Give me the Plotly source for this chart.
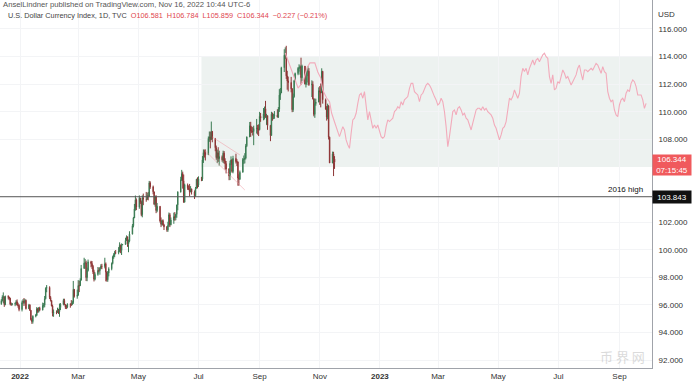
import pandas as pd
import plotly.graph_objects as go

# ---------------- data ----------------
# DXY daily candles, business days 2021-12-13 .. 2022-11-16
close_dec21 = [96.31, 96.57, 96.58, 96.02, 96.62, 96.56, 96.49, 96.06, 96.05, 96.06, 96.10, 96.23, 95.99, 95.96, 95.67]
high_dec21 = [96.42, 96.70, 96.91, 96.63, 96.68, 96.70, 96.60, 96.52, 96.18, 96.14, 96.18, 96.35, 96.40, 96.16, 96.05]
low_dec21 = [96.01, 96.25, 96.12, 95.86, 95.98, 96.40, 96.34, 95.98, 95.93, 95.96, 95.91, 96.00, 95.95, 95.80, 95.54]

close_jan = [96.17, 96.27, 96.18, 96.33, 95.73, 95.99, 95.61, 94.94, 94.80, 95.18, 95.25, 95.73, 95.52, 95.77, 95.64, 95.96, 95.98, 96.45, 97.21, 97.27, 96.54]
high_jan = [96.32, 96.42, 96.50, 96.44, 96.39, 96.08, 96.05, 95.63, 95.04, 95.25, 95.35, 95.85, 95.78, 95.85, 95.87, 96.17, 96.14, 96.65, 97.27, 97.44, 97.35]
low_jan = [95.53, 96.06, 95.92, 96.05, 95.67, 95.70, 95.56, 94.87, 94.63, 94.65, 95.10, 95.20, 95.42, 95.45, 95.55, 95.60, 95.80, 95.83, 96.40, 96.92, 96.43]

close_feb = [96.32, 95.92, 95.39, 95.46, 95.44, 95.62, 95.51, 95.81, 96.05, 96.33, 96.03, 95.84, 95.84, 96.06, 96.04, 96.04, 96.18, 97.13, 96.62, 96.71]
high_feb = [96.64, 96.34, 96.02, 95.67, 95.60, 95.80, 95.71, 96.10, 96.13, 96.45, 96.45, 96.05, 96.00, 96.12, 96.12, 96.35, 96.31, 97.74, 97.12, 97.11]
low_feb = [96.25, 95.90, 95.17, 95.14, 95.33, 95.42, 95.35, 95.14, 95.63, 95.97, 95.98, 95.71, 95.70, 95.76, 95.80, 95.92, 95.98, 96.07, 96.53, 96.45]

close_mar = [97.41, 97.39, 97.79, 98.64, 99.03, 99.06, 97.98, 98.50, 99.13, 99.00, 98.80, 98.40, 97.86, 98.21, 98.50, 98.48, 98.64, 98.80, 98.79, 98.98, 98.39, 97.82, 98.31]
high_mar = [97.80, 97.74, 97.93, 98.90, 99.42, 99.33, 99.21, 98.70, 99.29, 99.20, 99.18, 98.90, 98.55, 98.36, 98.75, 98.71, 98.75, 98.95, 98.98, 99.42, 99.08, 98.41, 98.46]
low_mar = [96.67, 96.93, 97.38, 97.90, 98.65, 98.62, 97.73, 97.72, 98.42, 98.73, 98.60, 98.24, 97.70, 97.78, 98.12, 98.36, 98.19, 98.60, 98.59, 98.65, 97.71, 97.69, 97.68]

close_apr = [98.62, 99.00, 99.48, 99.62, 99.80, 99.79, 99.89, 100.32, 99.95, 100.36, 100.38, 100.67, 100.94, 100.40, 100.62, 101.13, 101.74, 102.30, 102.96, 103.62, 103.09]
high_apr = [98.73, 99.08, 99.57, 99.75, 99.92, 99.98, 100.19, 100.54, 100.38, 100.46, 100.42, 100.86, 101.04, 100.96, 100.74, 101.34, 101.86, 102.38, 103.32, 103.93, 103.72]
low_apr = [98.07, 98.51, 98.94, 99.34, 99.46, 99.69, 99.67, 99.82, 99.75, 99.62, 100.33, 100.42, 100.63, 100.21, 99.82, 100.54, 101.12, 101.62, 102.32, 102.83, 102.87]

close_may = [103.74, 103.46, 102.54, 103.75, 103.67, 103.64, 103.92, 103.85, 104.85, 104.56, 104.20, 103.31, 103.84, 102.84, 103.15, 102.09, 101.85, 102.11, 101.80, 101.66, 101.44, 101.76]
high_may = [103.94, 103.77, 103.57, 103.94, 104.07, 104.19, 104.13, 104.19, 104.99, 104.96, 104.65, 104.19, 103.92, 103.95, 103.39, 103.07, 102.34, 102.17, 102.20, 101.88, 101.72, 102.03]
low_may = [102.97, 103.32, 102.43, 102.35, 103.23, 103.48, 103.68, 103.58, 103.94, 104.41, 104.02, 103.24, 103.12, 102.65, 102.72, 101.97, 101.64, 101.74, 101.77, 101.43, 101.30, 101.30]

close_jun = [102.54, 101.81, 102.15, 102.40, 102.34, 102.56, 103.25, 104.18, 105.07, 105.52, 105.00, 103.44, 104.71, 104.49, 104.43, 104.19, 104.41, 104.19, 103.91, 104.44, 105.11, 104.69]
high_jun = [102.70, 102.66, 102.34, 102.69, 102.73, 102.61, 103.26, 104.24, 105.29, 105.79, 105.66, 105.45, 104.79, 104.80, 104.66, 104.77, 104.61, 104.43, 104.30, 104.55, 105.14, 105.25]
low_jun = [101.67, 101.64, 101.77, 101.88, 102.10, 102.14, 102.32, 102.86, 104.15, 104.98, 104.43, 103.41, 103.66, 104.34, 104.32, 103.87, 104.17, 104.00, 103.68, 103.84, 104.44, 104.45]

close_jul = [105.14, 105.13, 106.51, 107.04, 107.01, 106.88, 108.07, 108.17, 107.98, 108.58, 108.07, 107.39, 106.67, 107.03, 106.60, 106.75, 106.51, 107.00, 106.43, 106.24, 105.85]
high_jul = [105.32, 105.28, 106.79, 107.27, 107.26, 107.27, 108.21, 108.57, 108.56, 109.29, 108.59, 108.06, 107.55, 107.26, 107.43, 107.18, 106.84, 107.18, 107.15, 106.63, 106.43]
low_jul = [104.55, 104.97, 104.99, 106.29, 106.68, 106.47, 106.96, 107.82, 107.35, 108.07, 107.79, 107.14, 106.52, 106.28, 106.37, 106.10, 106.38, 106.29, 106.24, 105.81, 105.53]

close_aug = [105.35, 106.26, 106.50, 105.67, 106.62, 106.39, 106.36, 105.20, 105.11, 105.61, 106.54, 106.54, 106.64, 107.53, 108.17, 108.99, 108.60, 108.60, 108.56, 108.79, 108.80, 108.77, 108.70]
high_aug = [105.92, 106.45, 106.77, 106.58, 106.81, 106.96, 106.56, 106.40, 105.47, 105.74, 106.65, 106.83, 107.00, 107.67, 108.21, 109.26, 109.27, 108.94, 108.89, 108.99, 109.48, 109.05, 109.09]
low_aug = [105.04, 105.05, 106.14, 105.58, 105.54, 106.25, 106.07, 104.64, 104.64, 105.06, 105.82, 106.22, 106.26, 106.55, 107.44, 108.18, 108.19, 108.46, 108.28, 107.58, 108.42, 108.34, 108.24]

close_sep = [109.67, 109.54, 109.86, 110.22, 109.63, 109.72, 109.00, 108.28, 109.82, 109.65, 109.71, 109.76, 109.61, 110.19, 111.21, 111.36, 113.19, 114.10, 114.11, 112.60, 112.23, 112.12]
high_sep = [109.99, 109.91, 110.27, 110.38, 110.79, 109.85, 109.33, 109.05, 110.00, 109.94, 109.86, 110.05, 110.18, 110.34, 111.64, 111.72, 113.26, 114.53, 114.67, 114.78, 112.97, 112.55]
low_sep = [108.65, 109.27, 109.38, 109.44, 109.56, 109.05, 108.69, 107.87, 108.32, 109.35, 109.46, 109.49, 109.60, 109.55, 109.99, 110.86, 111.41, 112.88, 113.82, 112.38, 111.60, 111.47]

close_oct = [111.66, 110.15, 111.09, 112.25, 112.77, 113.15, 113.17, 113.27, 112.47, 113.31, 112.00, 112.13, 112.93, 112.94, 111.96, 111.99, 110.94, 109.81, 110.59, 110.70, 111.53]
high_oct = [112.53, 111.72, 111.32, 112.31, 112.84, 113.24, 113.44, 113.37, 113.92, 113.41, 113.28, 112.47, 113.07, 113.32, 113.16, 112.28, 112.21, 110.98, 110.95, 110.95, 111.77]
low_oct = [111.41, 109.97, 109.99, 111.02, 112.24, 112.65, 112.91, 112.69, 111.95, 112.22, 112.00, 111.76, 111.93, 112.58, 111.88, 111.07, 110.89, 109.67, 109.56, 110.44, 110.81]

close_nov = [111.45, 111.37, 112.93, 110.87, 110.19, 109.62, 110.42, 108.16, 106.29, 106.95, 106.58, 106.344]
high_nov = [111.86, 112.05, 113.15, 112.96, 110.96, 110.41, 110.59, 110.48, 108.20, 107.11, 107.10, 106.784]
low_nov = [110.50, 110.32, 111.74, 110.59, 110.15, 109.36, 109.46, 107.99, 106.29, 106.27, 105.34, 105.859]

first_open = 96.08
last_open = 106.581

# Pink projected path
pink_a_dates = ["2022-09-27", "2022-10-05", "2022-10-10", "2022-10-15", "2022-10-19", "2022-10-22",
                "2022-10-27", "2022-10-30", "2022-11-02", "2022-11-04", "2022-11-08", "2022-11-11",
                "2022-11-13", "2022-11-16"]
pink_a_vals = [114.26, 112.67, 111.72, 112.16, 113.17, 113.54, 113.54, 112.88, 112.45, 111.58,
               111.00, 110.71, 109.91, 109.26]
pink_b_start, pink_b_end = "2022-11-21", "2023-09-28"
pink_b_vals = [
    108.20, 108.56, 108.92, 108.68, 107.96, 107.60, 107.35, 108.44, 109.41, 109.53,
    109.89, 110.61, 111.22, 111.34, 110.98, 111.46, 110.61, 109.41, 110.01, 109.41,
    108.80, 109.04, 108.80, 109.04, 108.56, 108.20, 108.08, 108.20, 108.92, 109.41,
    109.29, 109.41, 109.53, 110.01, 110.13, 110.37, 110.25, 110.73, 110.49, 110.86,
    110.98, 111.10, 111.70, 112.06, 112.06, 111.46, 111.34, 111.22, 110.73, 111.22,
    111.34, 111.70, 111.94, 112.06, 111.94, 111.70, 111.34, 111.10, 110.86, 110.49,
    110.61, 110.98, 110.73, 110.01, 108.92, 107.47, 108.20, 109.29, 110.01, 110.13,
    109.77, 110.25, 110.37, 110.13, 109.77, 109.89, 109.53, 109.41, 109.04, 108.68,
    109.17, 109.65, 110.13, 110.25, 110.25, 110.13, 110.37, 110.13, 110.25, 110.01,
    109.89, 109.77, 109.53, 109.04, 108.80, 108.32,
    107.96, 108.32, 108.80, 108.92, 109.29, 110.13, 110.98, 110.86, 111.10, 111.58,
    111.22, 110.98, 111.34, 112.55, 113.15, 112.91, 113.15, 112.67, 113.15, 113.51,
    113.75, 113.39, 113.75, 113.87, 113.63, 113.87, 114.12, 114.24, 113.99, 113.87,
    112.55, 112.06, 112.67, 111.58, 111.70, 112.18, 112.06, 112.55, 113.03, 112.79,
    112.43, 112.55, 112.18, 111.94, 112.18, 112.43, 112.67, 113.15, 113.39, 112.79,
    112.30, 113.03, 113.03, 112.91, 113.03, 113.15, 113.03, 113.27, 113.51, 113.39,
    113.03, 112.79, 113.27, 112.91, 112.79, 111.46, 110.98, 110.73, 110.86, 110.13,
    109.77, 109.65, 110.49, 110.86, 110.98, 110.73, 111.34, 111.58, 111.46, 112.06,
    112.30, 112.18, 111.82, 111.22, 111.22, 111.22, 110.86, 110.25, 110.61,
]

# Zone, levels, channel lines
zone_start = "2022-07-04"
zone_low, zone_high = 106.0, 114.0
level_2016 = 103.843
last_price = 106.344
channel_lower = (["2022-07-07", "2022-08-17"], [107.23, 104.33])
channel_upper = (["2022-07-15", "2022-08-12"], [108.17, 106.87])

x_tick_dates = ["2022-01-01", "2022-03-01", "2022-05-01", "2022-07-01", "2022-09-01", "2022-11-01",
                "2023-01-01", "2023-03-01", "2023-05-01", "2023-07-01", "2023-09-01"]
x_tick_text = ["<b>2022</b>", "Mar", "May", "Jul", "Sep", "Nov", "<b>2023</b>", "Mar", "May", "Jul", "Sep"]
y_tick_vals = [92, 94, 96, 98, 100, 102, 108, 110, 112, 114, 116]
x_range = ["2021-12-11 16:00", "2023-10-04"]
y_range = [91.43, 118.10]

# ---------------- build ----------------
closes = (close_dec21 + close_jan + close_feb + close_mar + close_apr + close_may + close_jun
          + close_jul + close_aug + close_sep + close_oct + close_nov)
highs = (high_dec21 + high_jan + high_feb + high_mar + high_apr + high_may + high_jun
         + high_jul + high_aug + high_sep + high_oct + high_nov)
lows = (low_dec21 + low_jan + low_feb + low_mar + low_apr + low_may + low_jun
        + low_jul + low_aug + low_sep + low_oct + low_nov)
opens = [first_open] + closes[:-1]
opens[-1] = last_open
dates = pd.bdate_range("2021-12-13", "2022-11-16")
assert len(dates) == len(closes) == len(highs) == len(lows)
highs = [max(h, o, c) for h, o, c in zip(highs, opens, closes)]
lows = [min(l, o, c) for l, o, c in zip(lows, opens, closes)]

pink_b_dates = pd.date_range(pink_b_start, pink_b_end, periods=len(pink_b_vals))
pink_x = list(pd.to_datetime(pink_a_dates)) + list(pink_b_dates)
pink_y = pink_a_vals + pink_b_vals

FONT = "Liberation Sans, Arial, sans-serif"
fig = go.Figure()

fig.add_trace(go.Scatter(x=pink_x, y=pink_y, mode="lines",
                         line=dict(color="#f2abbb", width=1.1), hoverinfo="skip", showlegend=False))
for cx, cy in (channel_lower, channel_upper):
    fig.add_trace(go.Scatter(x=cx, y=cy, mode="lines", line=dict(color="rgba(240,150,160,0.5)", width=1),
                             hoverinfo="skip", showlegend=False))

fig.add_trace(go.Candlestick(
    x=dates, open=opens, high=highs, low=lows, close=closes,
    increasing=dict(line=dict(color="#3a7a52", width=1), fillcolor="#4fae70"),
    decreasing=dict(line=dict(color="#8c3434", width=1), fillcolor="#e0474f"),
    whiskerwidth=0, showlegend=False))

fig.add_shape(type="rect", xref="x", yref="y", x0=zone_start, x1=x_range[1], y0=zone_low, y1=zone_high,
              fillcolor="#edf2f0", line=dict(width=0), layer="below")
fig.add_shape(type="line", xref="paper", yref="y", x0=0, x1=1, y0=level_2016, y1=level_2016,
              line=dict(color="#555555", width=1))

fig.update_layout(
    width=694, height=387, margin=dict(l=0, r=42, t=0, b=19),
    paper_bgcolor="white", plot_bgcolor="white",
    font=dict(family=FONT, size=8, color="#333333"),
    xaxis=dict(type="date", range=x_range, rangeslider=dict(visible=False),
               tickvals=x_tick_dates, ticktext=x_tick_text, tickfont=dict(size=8, color="#333"),
               showgrid=True, gridcolor="#f3f4f6", gridwidth=1, zeroline=False,
               showline=True, linecolor="#a0a3aa", linewidth=1, ticks="", fixedrange=True),
    yaxis=dict(side="right", range=y_range, tickvals=y_tick_vals,
               ticktext=[f"{v:.3f}" for v in y_tick_vals], tickfont=dict(size=8, color="#333"),
               showgrid=True, gridcolor="#f3f4f6", gridwidth=1, zeroline=False,
               showline=True, linecolor="#a0a3aa", linewidth=1, ticks="", ticklabelstandoff=4),
)

# header texts
fig.add_annotation(xref="paper", yref="paper", x=0.002, y=1 - 4 / 368, xanchor="left", yanchor="middle",
                   text="AnselLindner published on TradingView.com, Nov 16, 2022 10:44 UTC-6",
                   showarrow=False, font=dict(size=7.7, color="#555555"))
fig.add_annotation(xref="paper", yref="paper", x=0.009, y=1 - 16 / 368, xanchor="left", yanchor="middle",
                   text=("U.S. Dollar Currency Index, 1D, TVC&nbsp;&nbsp;"
                         "<span style='color:#e0474f'>O106.581&nbsp;&nbsp;H106.784&nbsp;&nbsp;L105.859&nbsp;&nbsp;"
                         "C106.344&nbsp;&nbsp;\u22120.227 (\u22120.21%)</span>"),
                   showarrow=False, font=dict(size=7.3, color="#444444"))
fig.add_annotation(xref="paper", yref="paper", x=1, y=1 - 14 / 368, xanchor="left", yanchor="middle",
                   xshift=4, text="USD", showarrow=False, font=dict(size=8, color="#333"))

# level label
fig.add_annotation(xref="paper", yref="y", x=645 / 652, y=level_2016, xanchor="right", yanchor="bottom",
                   yshift=1, text="2016 high", showarrow=False, font=dict(size=8, color="#111111"))
fig.add_annotation(xref="paper", yref="y", x=1, y=level_2016, xanchor="left", yanchor="middle",
                   xshift=0, text=f"{level_2016:.3f}", showarrow=False, bgcolor="#111111",
                   width=36, height=10, borderpad=1, font=dict(size=8, color="white"))
fig.add_annotation(xref="paper", yref="y", x=1, y=last_price, xanchor="left", yanchor="middle",
                   yshift=-3, text=f"{last_price:.3f}<br>07:15:45", showarrow=False, bgcolor="#f05a5d",
                   width=36, height=18, borderpad=1, font=dict(size=8, color="white"))

# watermark
fig.add_annotation(xref="paper", yref="paper", x=0.955, y=0.03, xanchor="center", yanchor="middle",
                   text="币 界 网", showarrow=False, opacity=0.35,
                   font=dict(size=13, color="#9a9a9a", family="Noto Sans CJK SC"))

fig.write_html("out.html", config={"displayModeBar": False},
               post_script="document.body.style.margin='0';document.body.style.padding='0';")
